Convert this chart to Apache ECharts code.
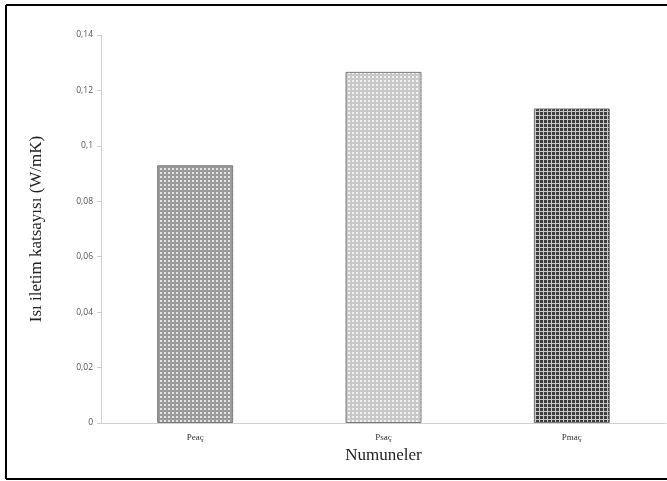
<!DOCTYPE html>
<html><head><meta charset="utf-8">
<script src="https://cdn.jsdelivr.net/npm/echarts@6/dist/echarts.min.js"></script>
<style>html,body{margin:0;padding:0;background:#fff}#c{width:667px;height:481px}</style>
</head><body><div id="c"></div>
<script>
const categories = ['Peaç', 'Psaç', 'Pmaç'];
const values = [0.093, 0.1267, 0.1135];
const yTicks = [0, 0.02, 0.04, 0.06, 0.08, 0.1, 0.12, 0.14];

function makePattern(bg, fg, kind) {
  const c = document.createElement('canvas');
  c.width = 4; c.height = 4;
  const g = c.getContext('2d');
  g.fillStyle = bg; g.fillRect(0, 0, 4, 4);
  g.fillStyle = fg;
  if (kind === 'dots') {
    g.fillRect(0, 0, 2, 2);
  } else if (kind === 'light') {
    g.fillRect(0, 0, 2, 2);
  } else {
    g.fillRect(3, 0, 1, 4); g.fillRect(0, 3, 4, 1);
  }
  return c;
}
const pats = [
  makePattern('#9a9a9a', '#e4e4e4', 'dots'),
  makePattern('#c8c8c8', '#f2f2f2', 'light'),
  makePattern('#3c3c3c', '#c8c8c8', 'grid')
];

const chart = echarts.init(document.getElementById('c'));
chart.setOption({
  animation: false,
  backgroundColor: '#fff',
  grid: { left: 101, right: 1, top: 35, bottom: 58 },
  xAxis: {
    type: 'category', data: categories,
    name: 'Numuneler', nameLocation: 'middle', nameGap: 22,
    nameTextStyle: { fontFamily: 'Liberation Serif', fontSize: 17, color: '#222' },
    axisLine: { lineStyle: { color: '#d0d0d0', width: 1 } },
    axisTick: { show: false },
    axisLabel: { fontFamily: 'Liberation Serif', fontSize: 9, color: '#333', margin: 10 }
  },
  yAxis: {
    type: 'value', min: 0, max: 0.14, interval: 0.02,
    name: 'Isı iletim katsayısı (W/mK)', nameLocation: 'middle', nameGap: 56, nameRotate: 90,
    nameTextStyle: { fontFamily: 'Liberation Serif', fontSize: 17, color: '#222' },
    axisLine: { show: true, lineStyle: { color: '#d0d0d0' } },
    axisTick: { show: true, length: 4, lineStyle: { color: '#d0d0d0' } },
    splitLine: { show: false },
    axisLabel: {
      fontFamily: 'Open Sans', fontSize: 8.5, color: '#555', margin: 8,
      formatter: v => {
        const t = yTicks.find(x => Math.abs(x - v) < 1e-9);
        return String(t !== undefined ? t : v).replace('.', ',');
      }
    }
  },
  series: [{
    type: 'bar', barWidth: 76,
    data: values.map((v, i) => ({
      value: v,
      itemStyle: { color: { image: pats[i], repeat: 'repeat' }, borderColor: '#7a7a7a', borderWidth: 1 }
    }))
  }],
  graphic: [
    { type: 'line', shape: { x1: 6, y1: 5, x2: 667, y2: 5 }, style: { stroke: '#000', lineWidth: 2 } },
    { type: 'line', shape: { x1: 6, y1: 5, x2: 6, y2: 479 }, style: { stroke: '#000', lineWidth: 2 } },
    { type: 'line', shape: { x1: 6, y1: 479, x2: 667, y2: 479 }, style: { stroke: '#000', lineWidth: 2 } }
  ]
});
</script></body></html>
